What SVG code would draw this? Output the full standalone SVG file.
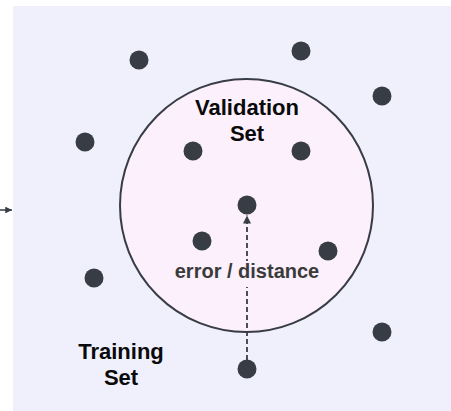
<svg xmlns="http://www.w3.org/2000/svg" width="451" height="411" viewBox="0 0 451 411">
<style>
.dot{fill:#383c45}
.title{font-family:"Liberation Sans",Arial,sans-serif;font-weight:bold;font-size:22px;fill:#0a0a0a;text-anchor:middle}
.lbl{font-family:"Liberation Sans",Arial,sans-serif;font-weight:bold;font-size:20px;fill:#3a3a3a;text-anchor:middle}
</style>
<defs>
<marker id="ah" viewBox="0 0 10 10" refX="10" refY="5" markerWidth="4.5" markerHeight="4.5" orient="auto" markerUnits="strokeWidth">
<path d="M0,0 L10,5 L0,10 z" fill="#383c45"/>
</marker>
</defs>
<rect x="0" y="0" width="451" height="411" fill="#ffffff"/>
<g id="training-set">
<rect x="13" y="6" width="438" height="405" fill="#f0f0fd"/>
<text class="title" x="121" y="359">Training</text>
<text class="title" x="121" y="385">Set</text>
</g>
<g id="validation-set">
<circle cx="246.5" cy="205.5" r="126.5" fill="#fbf0fb" stroke="#383c45" stroke-width="2"/>
<text class="title" x="247" y="115">Validation</text>
<text class="title" x="247" y="141">Set</text>
</g>
<g id="points">
<circle class="dot" cx="139" cy="60" r="9.5"/>
<circle class="dot" cx="301" cy="51" r="9.5"/>
<circle class="dot" cx="382" cy="96" r="9.5"/>
<circle class="dot" cx="85" cy="142" r="9.5"/>
<circle class="dot" cx="193" cy="151" r="9.5"/>
<circle class="dot" cx="301" cy="151" r="9.5"/>
<circle class="dot" cx="247" cy="205" r="9.5"/>
<circle class="dot" cx="202" cy="241" r="9.5"/>
<circle class="dot" cx="328" cy="251" r="9.5"/>
<circle class="dot" cx="94" cy="278" r="9.5"/>
<circle class="dot" cx="382" cy="332" r="9.5"/>
<circle class="dot" cx="247" cy="369" r="9.5"/>
</g>
<g id="connectors">
<line x1="247" y1="360" x2="247" y2="215.5" stroke="#383c45" stroke-width="1.8" stroke-dasharray="5 3" marker-end="url(#ah)"/>
<line x1="0" y1="210" x2="12" y2="210" stroke="#383c45" stroke-width="1.5" marker-end="url(#ah)"/>
</g>
<g id="edge-label">
<rect x="174" y="261" width="146" height="26" fill="#fbf0fb"/>
<text class="lbl" x="247" y="278">error / distance</text>
</g>
</svg>
